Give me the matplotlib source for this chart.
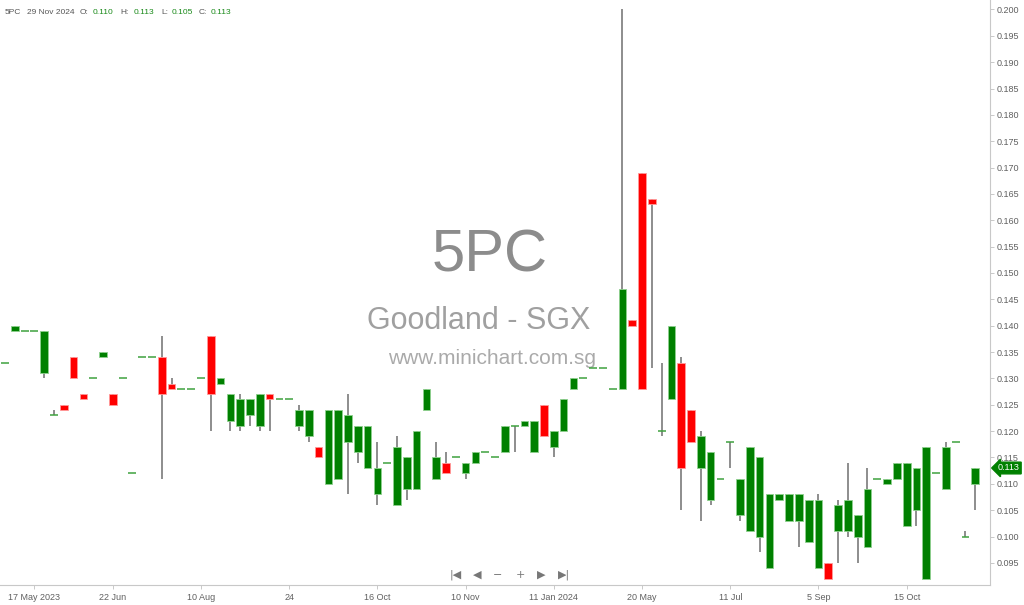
import numpy as np
import matplotlib.pyplot as plt
from matplotlib.transforms import blended_transform_factory

plt.rcParams['font.family'] = ['Liberation Sans', 'DejaVu Sans']

# OHLC per trading session (oldest first)
opens = [0.133, 0.139, 0.139, 0.139, 0.131, 0.123, 0.125, 0.134, 0.127, 0.130,
         0.134, 0.127, 0.130, 0.112, 0.134, 0.134, 0.134, 0.129, 0.128, 0.128,
         0.130, 0.138, 0.129, 0.122, 0.121, 0.123, 0.121, 0.127, 0.126, 0.126,
         0.121, 0.119, 0.117, 0.110, 0.111, 0.118, 0.116, 0.113, 0.108, 0.114,
         0.106, 0.109, 0.109, 0.124, 0.111, 0.114, 0.115, 0.112, 0.114, 0.116,
         0.115, 0.116, 0.121, 0.121, 0.116, 0.125, 0.117, 0.120, 0.128, 0.130,
         0.132, 0.132, 0.128, 0.128, 0.141, 0.169, 0.164, 0.120, 0.126, 0.133,
         0.124, 0.113, 0.107, 0.111, 0.118, 0.104, 0.101, 0.100, 0.094, 0.107,
         0.103, 0.103, 0.099, 0.094, 0.095, 0.101, 0.101, 0.100, 0.098, 0.111,
         0.110, 0.111, 0.102, 0.105, 0.092, 0.112, 0.109, 0.118, 0.100, 0.110]
highs = [0.133, 0.140, 0.139, 0.139, 0.139, 0.124, 0.125, 0.134, 0.127, 0.130,
         0.135, 0.127, 0.130, 0.112, 0.134, 0.134, 0.138, 0.130, 0.128, 0.128,
         0.130, 0.138, 0.130, 0.127, 0.127, 0.126, 0.127, 0.127, 0.126, 0.126,
         0.125, 0.124, 0.117, 0.124, 0.124, 0.127, 0.121, 0.121, 0.118, 0.114,
         0.119, 0.115, 0.120, 0.128, 0.118, 0.116, 0.115, 0.114, 0.116, 0.116,
         0.115, 0.121, 0.121, 0.122, 0.122, 0.125, 0.120, 0.126, 0.130, 0.130,
         0.132, 0.132, 0.128, 0.200, 0.141, 0.169, 0.164, 0.133, 0.140, 0.134,
         0.124, 0.120, 0.116, 0.111, 0.118, 0.111, 0.117, 0.115, 0.108, 0.108,
         0.108, 0.108, 0.107, 0.108, 0.095, 0.107, 0.114, 0.104, 0.113, 0.111,
         0.111, 0.114, 0.114, 0.113, 0.117, 0.112, 0.118, 0.118, 0.101, 0.113]
lows = [0.133, 0.139, 0.139, 0.139, 0.130, 0.123, 0.124, 0.130, 0.126, 0.130,
        0.134, 0.125, 0.130, 0.112, 0.134, 0.134, 0.111, 0.128, 0.128, 0.128,
        0.130, 0.120, 0.129, 0.120, 0.120, 0.121, 0.120, 0.120, 0.126, 0.126,
        0.120, 0.118, 0.115, 0.110, 0.111, 0.108, 0.114, 0.113, 0.106, 0.114,
        0.106, 0.107, 0.109, 0.124, 0.111, 0.112, 0.115, 0.111, 0.114, 0.116,
        0.115, 0.116, 0.116, 0.121, 0.116, 0.119, 0.115, 0.120, 0.128, 0.130,
        0.132, 0.132, 0.128, 0.128, 0.140, 0.128, 0.132, 0.119, 0.126, 0.105,
        0.118, 0.103, 0.106, 0.111, 0.113, 0.103, 0.101, 0.097, 0.094, 0.107,
        0.103, 0.098, 0.099, 0.094, 0.092, 0.095, 0.100, 0.095, 0.098, 0.111,
        0.110, 0.111, 0.102, 0.102, 0.092, 0.112, 0.109, 0.118, 0.100, 0.105]
closes = [0.133, 0.140, 0.139, 0.139, 0.139, 0.123, 0.124, 0.130, 0.126, 0.130,
          0.135, 0.125, 0.130, 0.112, 0.134, 0.134, 0.127, 0.128, 0.128, 0.128,
          0.130, 0.127, 0.130, 0.127, 0.126, 0.126, 0.127, 0.126, 0.126, 0.126,
          0.124, 0.124, 0.115, 0.124, 0.124, 0.123, 0.121, 0.121, 0.113, 0.114,
          0.117, 0.115, 0.120, 0.128, 0.115, 0.112, 0.115, 0.114, 0.116, 0.116,
          0.115, 0.121, 0.121, 0.122, 0.122, 0.119, 0.120, 0.126, 0.130, 0.130,
          0.132, 0.132, 0.128, 0.147, 0.140, 0.128, 0.163, 0.120, 0.140, 0.113,
          0.118, 0.119, 0.116, 0.111, 0.118, 0.111, 0.117, 0.115, 0.108, 0.108,
          0.108, 0.108, 0.107, 0.107, 0.092, 0.106, 0.107, 0.104, 0.109, 0.111,
          0.111, 0.114, 0.114, 0.113, 0.117, 0.112, 0.117, 0.118, 0.100, 0.113]

tick_idx = [3, 11, 20, 29, 38, 47, 56, 65, 74, 83, 92]
tick_labels = ['17 May 2023', '22 Jun', '10 Aug', '24', '16 Oct', '10 Nov',
               '11 Jan 2024', '20 May', '11 Jul', '5 Sep', '15 Oct']

o = np.array(opens); h = np.array(highs); l = np.array(lows); c = np.array(closes)
x = np.arange(len(o))

fig = plt.figure(figsize=(10.24, 6.05), dpi=100)
ax = fig.add_axes([0, 20 / 605, 990 / 1024, 585 / 605])

up = c > o
down = c < o
flat = c == o

# wicks
ax.vlines(x, l, h, color='#7a7a7a', linewidth=1.2, zorder=2)
# bodies
ax.bar(x[up], (c - o)[up], bottom=o[up], width=0.78, color='#008000',
       edgecolor='#8fd08f', linewidth=0.6, zorder=3)
ax.bar(x[down], (o - c)[down], bottom=c[down], width=0.78, color='#ff0000',
       edgecolor='#ff9a9a', linewidth=0.6, zorder=3)
# doji sessions
ax.hlines(o[flat], x[flat] - 0.4, x[flat] + 0.4, color='#3fa23f', linewidth=1.1, zorder=3)

ax.set_xlim(-0.51, 100.5)
ax.set_ylim(0.0908, 0.2018)

ax.yaxis.tick_right()
ax.set_yticks(np.arange(0.095, 0.2001, 0.005))
ax.set_yticklabels(['%.3f' % v for v in np.arange(0.095, 0.2001, 0.005)])
ax.set_xticks(tick_idx)
ax.set_xticklabels(tick_labels)
ax.tick_params(axis='y', labelsize=6.5, colors='#c0c0c0', labelcolor='#606060',
               length=3, width=0.6, pad=2)
ax.tick_params(axis='x', labelsize=6.5, colors='#c0c0c0', labelcolor='#606060',
               length=3, width=0.6, pad=3)
for s in ['left', 'top']:
    ax.spines[s].set_visible(False)
for s in ['right', 'bottom']:
    ax.spines[s].set_color('#c8c8c8')
    ax.spines[s].set_linewidth(0.8)

# watermark
ax.text(0.495, 0.562, '5PC', transform=ax.transAxes, ha='center', va='center',
        fontsize=43, color='#8c8c8c', zorder=0)
ax.text(0.484, 0.452, 'Goodland - SGX', transform=ax.transAxes, ha='center', va='center',
        fontsize=22, color='#a0a0a0', zorder=0)
ax.text(0.497, 0.387, 'www.minichart.com.sg', transform=ax.transAxes, ha='center',
        va='center', fontsize=15, color='#aaaaaa', zorder=0)

# last price tag
tr = blended_transform_factory(ax.transAxes, ax.transData)
ax.text(1.008, c[-1], '%.3f' % c[-1], transform=tr, ha='left', va='center',
        fontsize=6.5, color='white', clip_on=False, zorder=5,
        bbox=dict(boxstyle='larrow,pad=0.15', fc='#008000', ec='#008000'))

# header line
hy = 1 - 12 / 605
parts = [(5, '5PC', '#555555'), (27, '29 Nov 2024', '#555555'),
         (80, 'O:', '#555555'), (93, '%.3f' % o[-1], '#1a8a1a'),
         (120, 'H:', '#555555'), (134, '%.3f' % h[-1], '#1a8a1a'),
         (161, 'L:', '#555555'), (172, '%.3f' % l[-1], '#1a8a1a'),
         (199, 'C:', '#555555'), (211, '%.3f' % c[-1], '#1a8a1a')]
for px, txt, col in parts:
    fig.text(px / 1024, hy, txt, fontsize=6, color=col, va='center', ha='left')

# navigation buttons
ny = 1 - 575 / 605
for px, txt in [(456, '|◀'), (477, '◀'), (498, '−'), (520, '+'), (541, '▶'), (564, '▶|')]:
    fig.text(px / 1024, ny, txt, fontsize=8, color='#777777', ha='center', va='center',
             family='DejaVu Sans')

fig.savefig('out.png', dpi=100)
